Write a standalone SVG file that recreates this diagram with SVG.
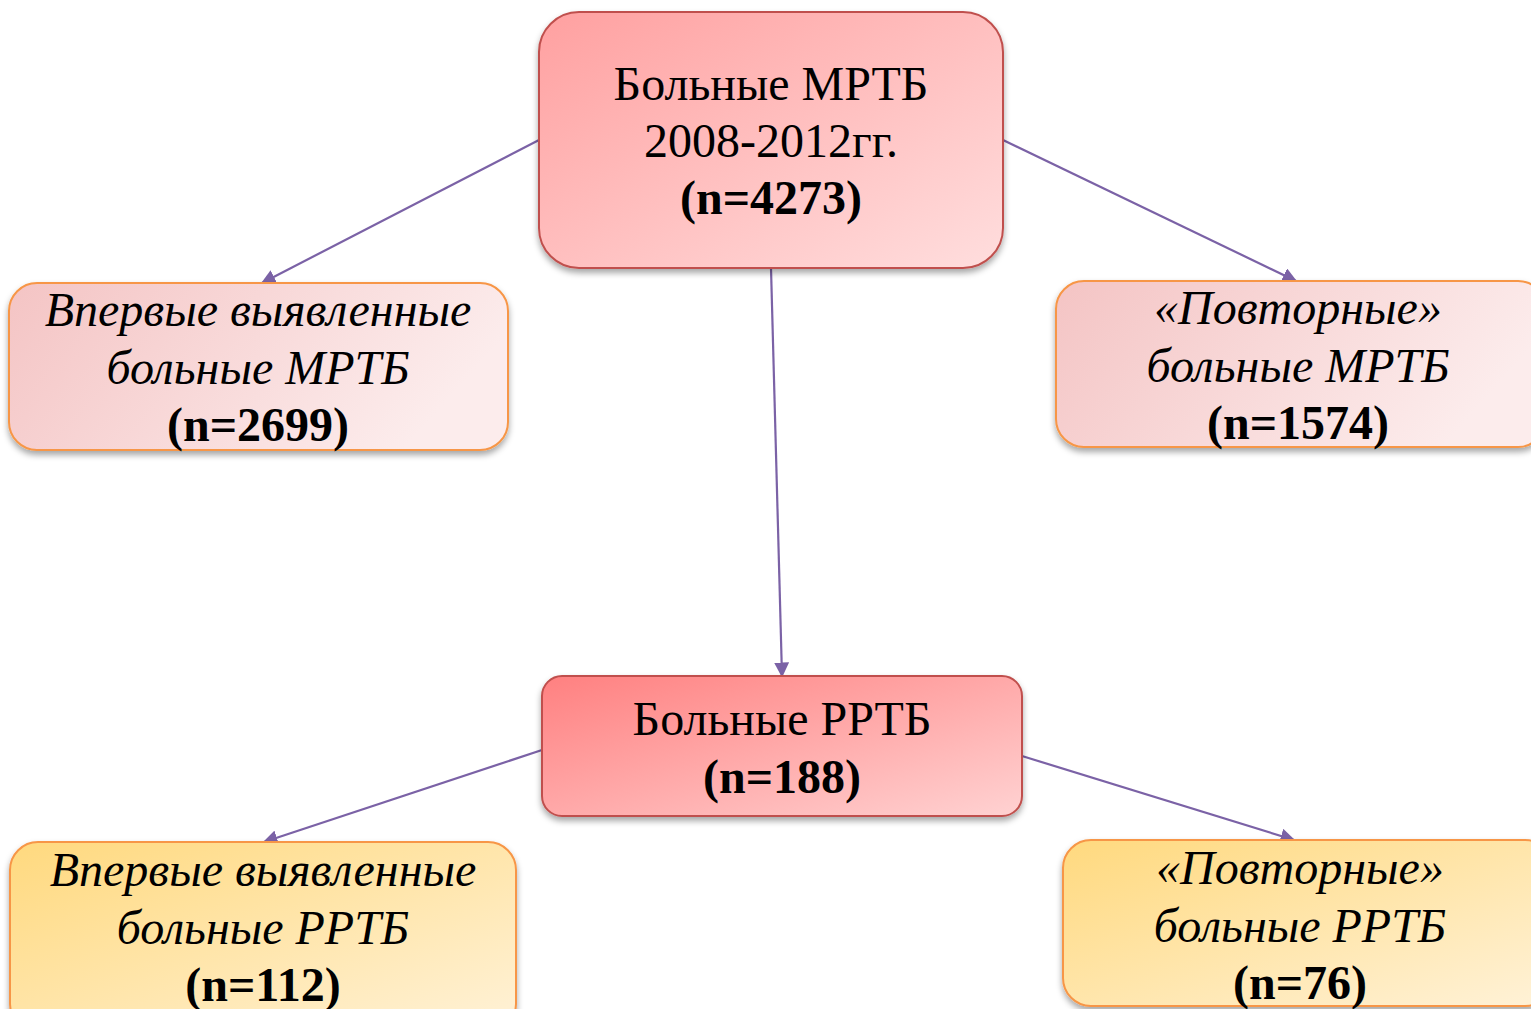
<svg xmlns="http://www.w3.org/2000/svg" width="1531" height="1009" viewBox="0 0 1531 1009">
<defs>
<style>
.t{font-family:"Liberation Serif","Times New Roman",serif;font-size:48px;fill:#000;text-anchor:middle}
.i{font-style:italic}
.b{font-weight:bold;font-style:normal}
.red{stroke:#C0504D;stroke-width:2}
.org{stroke:#F79646;stroke-width:2}
.c{stroke:#7B62A6;stroke-width:2.2;fill:none;marker-end:url(#ah)}
</style>
<linearGradient id="gTop" x1="0" y1="0" x2="1" y2="1"><stop offset="0" stop-color="#FFA0A0"/><stop offset="1" stop-color="#FFDEDE"/></linearGradient>
<linearGradient id="gMid" x1="0" y1="0" x2="1" y2="1"><stop offset="0" stop-color="#FF8080"/><stop offset="1" stop-color="#FFD2D2"/></linearGradient>
<linearGradient id="gPink" x1="0" y1="0" x2="1" y2="0.3"><stop offset="0" stop-color="#F4C4C4"/><stop offset="1" stop-color="#FCECEC"/></linearGradient>
<linearGradient id="gYel" x1="0" y1="0" x2="1" y2="1"><stop offset="0" stop-color="#FFD97E"/><stop offset="1" stop-color="#FFF2D8"/></linearGradient>
<filter id="sh" x="-10%" y="-10%" width="120%" height="130%"><feDropShadow dx="0" dy="4" stdDeviation="3" flood-color="#000" flood-opacity="0.35"/></filter>
<marker id="ah" viewBox="0 0 10 10" refX="9" refY="5" markerWidth="15" markerHeight="15" orient="auto" markerUnits="userSpaceOnUse"><path d="M0,0 L10,5 L0,10 z" fill="#7B62A6"/></marker>
</defs>
<rect width="1531" height="1009" fill="#fff"/>
<g id="connectors">
<line class="c" x1="539" y1="140" x2="262" y2="283"/>
<line class="c" x1="1003" y1="140" x2="1296" y2="281"/>
<line class="c" x1="771" y1="268" x2="782" y2="676"/>
<line class="c" x1="542" y1="750" x2="264" y2="842"/>
<line class="c" x1="1022" y1="756" x2="1294" y2="840"/>
</g>
<g id="n-top">
<rect x="539" y="12" width="464" height="256" rx="40" fill="url(#gTop)" class="red" filter="url(#sh)"/>
<text class="t" x="771" y="100">Больные МРТБ</text>
<text class="t" x="771" y="157">2008-2012гг.</text>
<text class="t b" x="771" y="214">(n=4273)</text>
</g>
<g id="n-left1">
<rect x="9" y="283" width="499" height="167" rx="28" fill="url(#gPink)" class="org" filter="url(#sh)"/>
<text class="t i" x="258" y="326">Впервые выявленные</text>
<text class="t i" x="258" y="384">больные МРТБ</text>
<text class="t b" x="258" y="441">(n=2699)</text>
</g>
<g id="n-right1">
<rect x="1056" y="281" width="490" height="166" rx="28" fill="url(#gPink)" class="org" filter="url(#sh)"/>
<text class="t i" x="1298" y="324">«Повторные»</text>
<text class="t i" x="1298" y="382">больные МРТБ</text>
<text class="t b" x="1298" y="439">(n=1574)</text>
</g>
<g id="n-mid">
<rect x="542" y="676" width="480" height="140" rx="20" fill="url(#gMid)" class="red" filter="url(#sh)"/>
<text class="t" x="782" y="735">Больные РРТБ</text>
<text class="t b" x="782" y="793">(n=188)</text>
</g>
<g id="n-left2">
<rect x="10" y="842" width="506" height="190" rx="28" fill="url(#gYel)" class="org" filter="url(#sh)"/>
<text class="t i" x="263" y="886">Впервые выявленные</text>
<text class="t i" x="263" y="944">больные РРТБ</text>
<text class="t b" x="263" y="1001">(n=112)</text>
</g>
<g id="n-right2">
<rect x="1063" y="840" width="490" height="166" rx="28" fill="url(#gYel)" class="org" filter="url(#sh)"/>
<text class="t i" x="1300" y="884">«Повторные»</text>
<text class="t i" x="1300" y="942">больные РРТБ</text>
<text class="t b" x="1300" y="999">(n=76)</text>
</g>
</svg>
